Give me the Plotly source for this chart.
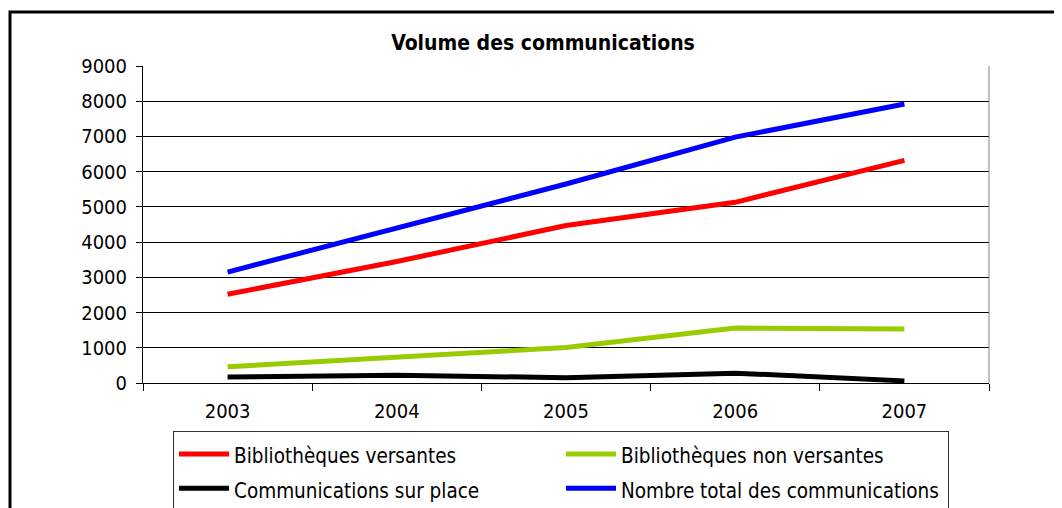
import plotly.graph_objects as go

years = ["2003", "2004", "2005", "2006", "2007"]
bib_versantes = [2520, 3450, 4470, 5130, 6320]
bib_non_versantes = [460, 750, 1010, 1560, 1530]
comm_sur_place = [170, 220, 150, 280, 60]
total_comm = [3150, 4400, 5650, 6980, 7920]

series_names = ["Bibliothèques versantes", "Bibliothèques non versantes",
                "Communications sur place", "Nombre total des communications"]
series_values = [bib_versantes, bib_non_versantes, comm_sur_place, total_comm]
series_colors = ["#FF0000", "#99CC00", "#000000", "#0000FF"]

FONT = "Tahoma, 'DejaVu Sans Condensed', 'DejaVu Sans', sans-serif"

fig = go.Figure()
for name, vals, col in zip(series_names, series_values, series_colors):
    fig.add_trace(go.Scatter(x=years, y=vals, mode="lines",
                             name='<span style="font-size:20.5px">' + name + '</span>',
                             line=dict(color=col, width=5)))

# page body has an 8px margin: work in reference-pixel coordinates and shift
OFF = 8
W, H = 1062, 508
# plot area in reference pixels
X0, X1, Y0, Y1 = 143, 989, 66, 383
L, T = X0 - OFF, Y0 - OFF
R = W - (X1 - OFF)
B = H - (Y1 - OFF)
pw, ph = X1 - X0, Y1 - Y0

def px(x):
    return (x - X0) / pw

def py(y):
    return (Y1 - y) / ph

fig.update_layout(
    width=W, height=H,
    margin=dict(l=L, r=R, t=T, b=B, autoexpand=False),
    paper_bgcolor="white", plot_bgcolor="white",
    font=dict(family=FONT, size=20, color="black"),
    title=dict(text="<b>Volume des communications</b>", x=(543 - OFF) / W, xanchor="center",
               y=1 - (43 - OFF) / H, yanchor="middle", yref="container",
               font=dict(family=FONT, size=21, color="black")),
    xaxis=dict(type="category", tickson="boundaries", ticks="outside", ticklen=7,
               tickcolor="black", showline=True, linecolor="black", linewidth=1,
               showgrid=False, range=[-0.5, 4.5], ticklabelstandoff=10,
               tickfont=dict(size=20)),
    yaxis=dict(range=[0, 9000], dtick=1000, ticks="outside", ticklen=6,
               tickcolor="black", showline=True, linecolor="black", linewidth=1,
               showgrid=True, gridcolor="black", gridwidth=1, zeroline=False,
               ticklabelstandoff=5, tickfont=dict(size=20)),
    legend=dict(orientation="h", x=px(173), y=py(431), xanchor="left", yanchor="top",
                bordercolor="#333333", borderwidth=1, bgcolor="white",
                itemwidth=50, entrywidth=322, entrywidthmode="pixels",
                font=dict(family=FONT, size=24)),
    showlegend=True,
    shapes=[
        dict(type="line", xref="paper", yref="paper", x0=1, x1=1, y0=0, y1=1,
             line=dict(color="#808080", width=1)),
        dict(type="rect", xref="paper", yref="paper",
             x0=px(10), x1=px(1085), y0=py(12), y1=py(540),
             line=dict(color="black", width=3), layer="below"),
    ],
)

fig.write_html("out.html")
